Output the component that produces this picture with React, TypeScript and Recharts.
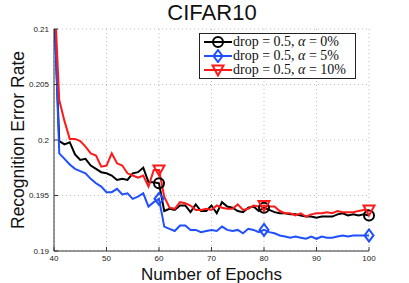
import { LineChart, Line, XAxis, YAxis, CartesianGrid, Legend } from "recharts";

const epochs = [
    40, 41, 42, 43, 44, 45, 46, 47, 48, 49, 50, 51, 52, 53, 54, 55, 56, 57, 58, 59, 60,
    61, 62, 63, 64, 65, 66, 67, 68, 69, 70, 71, 72, 73, 74, 75, 76, 77, 78, 79, 80,
    81, 82, 83, 84, 85, 86, 87, 88, 89, 90, 91, 92, 93, 94, 95, 96, 97, 98, 99, 100,
];
const alpha0 = [
    0.212, 0.1999, 0.1996, 0.1998, 0.1987, 0.1982, 0.1983, 0.1977, 0.1974, 0.1971, 0.197,
    0.1968, 0.1964, 0.1965, 0.1964, 0.197, 0.1971, 0.1975, 0.1962, 0.1962, 0.1961,
    0.1936, 0.1938, 0.1937, 0.1941, 0.1941, 0.1935, 0.1942, 0.1936, 0.1936, 0.1941,
    0.1934, 0.1944, 0.194, 0.1939, 0.1936, 0.1935, 0.1939, 0.194, 0.1936, 0.1939,
    0.1937, 0.1935, 0.1934, 0.1934, 0.1933, 0.1933, 0.1932, 0.1931, 0.1931, 0.193,
    0.1931, 0.1931, 0.1931, 0.1933, 0.1934, 0.1932, 0.1933, 0.1932, 0.1933, 0.1932,
];
const alpha5 = [
    0.213, 0.1988, 0.1983, 0.1978, 0.1974, 0.1972, 0.197, 0.1965, 0.1961, 0.1958, 0.1953,
    0.1953, 0.1956, 0.1951, 0.1952, 0.1947, 0.1949, 0.1952, 0.194, 0.1944, 0.1947,
    0.1922, 0.192, 0.1918, 0.1923, 0.1923, 0.1919, 0.1919, 0.1917, 0.1918, 0.1919,
    0.1918, 0.1922, 0.1919, 0.1918, 0.1919, 0.1916, 0.192, 0.1919, 0.1917, 0.1919,
    0.1917, 0.1916, 0.1914, 0.1913, 0.1912, 0.1913, 0.1912, 0.1911, 0.1913, 0.1911,
    0.1913, 0.1912, 0.1912, 0.1913, 0.1914, 0.1913, 0.1914, 0.1914, 0.1914, 0.1914,
];
const alpha10 = [
    0.214, 0.2036, 0.2017, 0.2001, 0.2001, 0.1999, 0.1994, 0.1988, 0.1986, 0.1976, 0.1977,
    0.1988, 0.1979, 0.1977, 0.197, 0.1968, 0.1966, 0.1968, 0.1958, 0.1973, 0.1973,
    0.1949, 0.1939, 0.1938, 0.1944, 0.1943, 0.1941, 0.1937, 0.1937, 0.1938, 0.1937,
    0.1941, 0.1939, 0.1938, 0.1938, 0.1942, 0.1937, 0.1938, 0.1941, 0.194, 0.1941,
    0.194, 0.194, 0.1936, 0.1934, 0.1934, 0.1932, 0.1934, 0.1931, 0.1933, 0.1934,
    0.1934, 0.1935, 0.1934, 0.1936, 0.1935, 0.1935, 0.1935, 0.1936, 0.1937, 0.1937,
];
const markerEpochs = [60, 80, 100];
const xTicks = [40, 50, 60, 70, 80, 90, 100];
const yTicks = [0.19, 0.195, 0.2, 0.205, 0.21];

const data = epochs.map((e, i) => ({ epoch: e, a0: alpha0[i], a5: alpha5[i], a10: alpha10[i] }));

const series = [
    { key: "a0", color: "#000000", shape: "circle", label: "0%" },
    { key: "a5", color: "#1f4fff", shape: "diamond", label: "5%" },
    { key: "a10", color: "#ff1a1a", shape: "triangle", label: "10%" },
];

function Marker({ shape, color, x, y }: { shape: string; color: string; x: number; y: number }) {
    if (shape === "circle") return <circle cx={x} cy={y} r={5} fill="none" stroke={color} strokeWidth={2} />;
    if (shape === "diamond")
        return <polygon points={`${x},${y - 6} ${x + 4.5},${y} ${x},${y + 6} ${x - 4.5},${y}`} fill="none" stroke={color} strokeWidth={2} />;
    return <polygon points={`${x - 5.5},${y - 4.5} ${x + 5.5},${y - 4.5} ${x},${y + 5.5}`} fill="none" stroke={color} strokeWidth={2} />;
}

function makeDot(shape: string, color: string) {
    return (props: any) => {
        const k = `${shape}-${props.index}`;
        if (!markerEpochs.includes(props.payload.epoch)) return <g key={k} />;
        return (
            <g key={k}>
                <Marker shape={shape} color={color} x={props.cx} y={props.cy} />
            </g>
        );
    };
}

function LegendBox() {
    return (
        <div style={{ border: "1px solid #222", background: "#fff", padding: "1px 9px 1px 4px", fontFamily: "'Liberation Serif', 'DejaVu Serif', serif", fontSize: 14, lineHeight: "14px", color: "#111" }}>
            {series.map((s) => (
                <div key={s.key} style={{ display: "flex", alignItems: "center", whiteSpace: "nowrap", height: 14 }}>
                    <svg width={28} height={14} style={{ marginRight: 1 }}>
                        <line x1={0} y1={7} x2={28} y2={7} stroke={s.color} strokeWidth={2} />
                        <Marker shape={s.shape} color={s.color} x={14} y={7} />
                    </svg>
                    <span>
                        drop = 0.5, <i>α</i> = {s.label}
                    </span>
                </div>
            ))}
        </div>
    );
}

export default function App() {
    return (
        <div style={{ position: "relative", width: 409, height: 283, background: "#fff" }}>
            <style>{`body{margin:0}`}</style>
            <div style={{ position: "absolute", top: 0, left: 0, width: 424, textAlign: "center", fontFamily: "'Liberation Sans', Arial, sans-serif", fontSize: 22, lineHeight: "26px", color: "#111" }}>
                CIFAR10
            </div>
            <LineChart width={409} height={283} data={data} margin={{ top: 29, right: 40, bottom: 0, left: 12 }} style={{ fontFamily: "'Liberation Sans', Arial, sans-serif" }}>
                <CartesianGrid stroke="#bbbbbb" strokeDasharray="1 3" />
                <XAxis
                    dataKey="epoch"
                    type="number"
                    domain={[40, 100]}
                    ticks={xTicks}
                    height={32}
                    tickSize={-4}
                    tickMargin={8}
                    stroke="#333"
                    tick={{ fontSize: 8, fill: "#222" }}
                    label={{ value: "Number of Epochs", position: "insideBottom", offset: 0, dy: -3, fontSize: 17, fill: "#111" }}
                />
                <XAxis xAxisId="top" orientation="top" dataKey="epoch" type="number" domain={[40, 100]} ticks={xTicks} height={0} tickSize={-4} tick={false} stroke="#333" />
                <YAxis
                    type="number"
                    domain={[0.19, 0.21]}
                    ticks={yTicks}
                    allowDataOverflow
                    width={42}
                    tickSize={-4}
                    tickMargin={9}
                    stroke="#333"
                    tick={{ fontSize: 8, fill: "#222" }}
                    label={{ value: "Recognition Error Rate", angle: -90, position: "center", dx: -15, fontSize: 17.5, fill: "#111" }}
                />
                <YAxis yAxisId="right" orientation="right" type="number" domain={[0.19, 0.21]} ticks={yTicks} width={0} tickSize={-4} tick={false} stroke="#333" />
                {series.map((s) => (
                    <Line
                        key={s.key}
                        type="linear"
                        dataKey={s.key}
                        stroke={s.color}
                        strokeWidth={2}
                        dot={makeDot(s.shape, s.color)}
                        activeDot={false}
                        isAnimationActive={false}
                    />
                ))}
                <Legend layout="horizontal" verticalAlign="middle" align="center" wrapperStyle={{ top: 33, left: 199, width: "auto" }} content={() => <LegendBox />} />
            </LineChart>
        </div>
    );
}
